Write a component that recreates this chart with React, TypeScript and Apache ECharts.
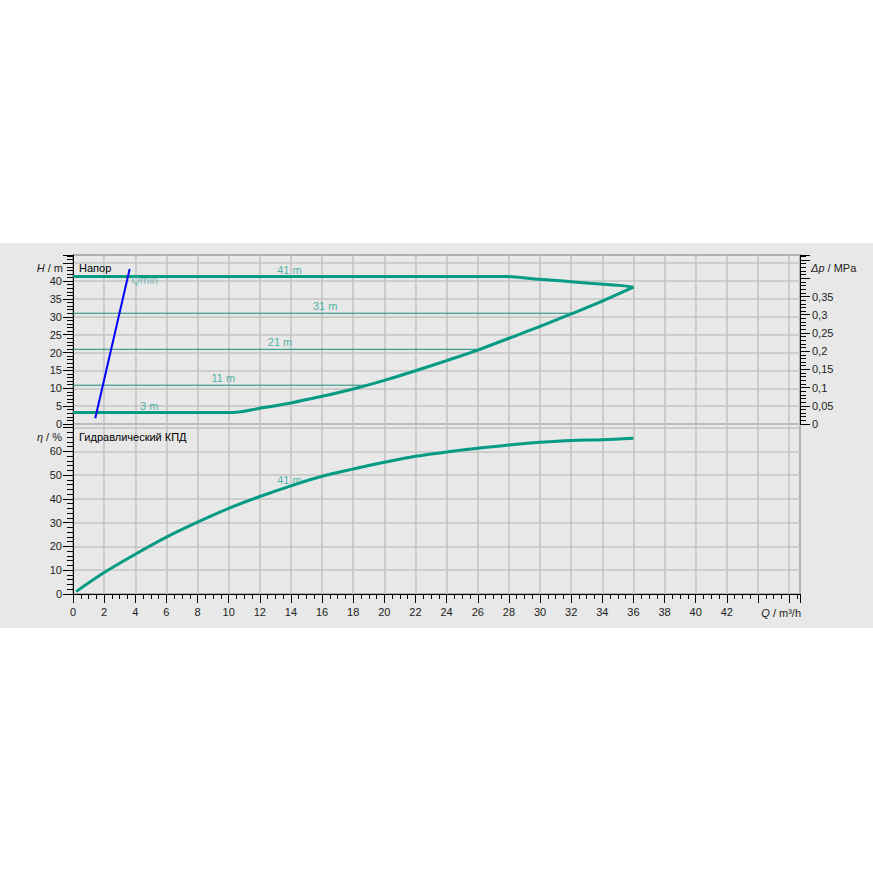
import React, { useEffect, useRef } from "react";
import * as echarts from "echarts";

// ---- data ----
const qMaxSpeed = [0, 27.8, 29.7, 31.5, 33.2, 35.1, 36];
const hMaxSpeed = [41.3, 41.3, 40.6, 40.0, 39.4, 38.8, 38.3];

const qMinSpeed = [0, 10.3, 12, 14, 16, 18, 20, 22, 24, 26, 28, 30, 32, 34, 36];
const hMinSpeed = [3.2, 3.2, 4.4, 5.9, 7.75, 9.8, 12.2, 14.9, 17.75, 20.7, 24.0, 27.3, 30.8, 34.4, 38.3];

const constHeads = [31.0, 20.9, 10.85];
const constHeadEndQ = [32.1, 26.1, 19.1];

const qMinLineQ = [1.43, 3.64];
const qMinLineH = [1.6, 43.4];

const qEff = [0.2, 2, 4, 6, 8, 10, 12, 14, 16, 18, 20, 22, 24, 26, 28, 30, 32, 34, 36];
const etaEff = [1, 9.0, 16.7, 23.9, 30.2, 36.0, 41.0, 45.5, 49.5, 52.6, 55.4, 57.9, 59.7, 61.3, 62.7, 63.8, 64.6, 64.9, 65.5];

const headLabels = ["41 m", "31 m", "21 m", "11 m", "3 m", "Qmin"];
const headLabelQ = [13.9, 16.2, 13.3, 9.65, 4.9, 4.6];
const headLabelH = [43.2, 33.1, 23.0, 13.0, 5.1, 40.4];

const effLabels = ["41 m"];
const effLabelQ = [13.9];
const effLabelEta = [47.8];

const xLastLabel = 42;
const hLastLabel = 40;
const etaLastLabel = 60;
const dpLastLabel = 0.35;

const FONT = "'Liberation Sans', Arial, sans-serif";
const TEAL = "#009b82";
const THIN = "#1a8f7a";
const LABEL_TEAL = "#26a393";
const TXT = "#1c1c1c";

export default function App() {
  const ref = useRef<HTMLDivElement>(null);
  useEffect(() => {
    if (!ref.current) return;
    const chart = echarts.init(ref.current, undefined, { renderer: "svg" });

    const axisTick = { show: true, length: 10, lineStyle: { color: "#000", width: 1 } };
    const minorTick = (n: number, len: number) => ({ show: true, splitNumber: n, length: len, lineStyle: { color: "#000", width: 1 } });
    const split = { show: true, lineStyle: { color: "#c4c4c4", width: 1.6 } };
    const lbl = { color: TXT, fontSize: 11, fontFamily: FONT };

    const pairs = (xs: number[], ys: number[]) => xs.map((x, i) => [x, ys[i]]);
    const italicRich = { i: { fontStyle: "italic", fontSize: 11, fontFamily: FONT, fill: TXT } };

    const option: any = {
      animation: false,
      backgroundColor: "#e8e8e8",
      textStyle: { fontFamily: FONT },
      grid: [
        { left: 73, right: 73, top: 12, height: 169, show: true, borderColor: "#000", borderWidth: 1, backgroundColor: "transparent" },
        { left: 73, right: 73, top: 181, height: 170, show: true, borderColor: "#000", borderWidth: 1, backgroundColor: "transparent" },
      ],
      xAxis: [
        {
          type: "value", gridIndex: 0, min: 0, max: 46.7, interval: 2,
          axisLine: { show: false }, axisTick: { show: false }, axisLabel: { show: false },
          splitLine: split,
        },
        {
          type: "value", gridIndex: 1, min: 0, max: 46.7, interval: 2,
          axisLine: { show: true, onZero: false, lineStyle: { color: "#000", width: 1 } },
          axisTick: { ...axisTick, length: 9 },
          minorTick: minorTick(4, 5),
          axisLabel: { ...lbl, margin: 12, formatter: (v: number) => (v <= xLastLabel && Math.abs(v - Math.round(v)) < 1e-6 ? String(v) : "") },
          splitLine: split,
        },
      ],
      yAxis: [
        {
          type: "value", gridIndex: 0, min: 0, max: 47.3, interval: 5, position: "left",
          axisLine: { show: true, lineStyle: { color: "#000", width: 1 } },
          axisTick: axisTick,
          minorTick: minorTick(5, 6),
          axisLabel: { ...lbl, margin: 11, formatter: (v: number) => (v <= hLastLabel && v % 5 === 0 ? String(v) : "") },
          splitLine: split,
        },
        {
          type: "value", gridIndex: 0, min: 0, max: 0.464, interval: 0.05, position: "right",
          axisLine: { show: true, lineStyle: { color: "#000", width: 1 } },
          axisTick: axisTick,
          minorTick: minorTick(5, 6),
          axisLabel: {
            ...lbl, margin: 12,
            formatter: (v: number) => (v <= dpLastLabel + 1e-9 && Math.abs(v * 20 - Math.round(v * 20)) < 1e-6 ? String(Number(v.toFixed(2))).replace(".", ",") : ""),
          },
          splitLine: { show: false },
        },
        {
          type: "value", gridIndex: 1, min: 0, max: 71.5, interval: 10, position: "left",
          axisLine: { show: true, lineStyle: { color: "#000", width: 1 } },
          axisTick: axisTick,
          minorTick: minorTick(5, 6),
          axisLabel: { ...lbl, margin: 11, formatter: (v: number) => (v <= etaLastLabel && v % 10 === 0 ? String(v) : "") },
          splitLine: split,
        },
      ],
      graphic: [
        { type: "text", x: 63, y: 25, z: 10, style: { text: "{i|H} / m", align: "right", verticalAlign: "middle", fill: TXT, font: `11px ${FONT}`, rich: italicRich } },
        { type: "text", x: 79, y: 25, z: 10, style: { text: "Напор", align: "left", verticalAlign: "middle", fill: "#000", font: `11px ${FONT}` } },
        { type: "text", x: 811, y: 25, z: 10, style: { text: "{i|Δp} / MPa", align: "left", verticalAlign: "middle", fill: TXT, font: `11px ${FONT}`, rich: italicRich } },
        { type: "text", x: 62, y: 194, z: 10, style: { text: "{i|η} / %", align: "right", verticalAlign: "middle", fill: TXT, font: `11px ${FONT}`, rich: italicRich } },
        { type: "text", x: 79, y: 194, z: 10, style: { text: "Гидравлический КПД", align: "left", verticalAlign: "middle", fill: "#000", font: `11px ${FONT}` } },
        { type: "text", x: 801, y: 370, z: 10, style: { text: "{i|Q} / m³/h", align: "right", verticalAlign: "middle", fill: TXT, font: `11px ${FONT}`, rich: italicRich } },
      ],
      series: [
        ...constHeads.map((h, i) => ({
          type: "line", xAxisIndex: 0, yAxisIndex: 0, showSymbol: false, z: 2,
          data: [[0, h], [constHeadEndQ[i], h]],
          lineStyle: { color: THIN, width: 1 },
        })),
        {
          type: "line", xAxisIndex: 0, yAxisIndex: 0, showSymbol: false, z: 3, smooth: 0.2,
          data: pairs(qMaxSpeed, hMaxSpeed), lineStyle: { color: TEAL, width: 3 },
        },
        {
          type: "line", xAxisIndex: 0, yAxisIndex: 0, showSymbol: false, z: 3, smooth: 0.3,
          data: pairs(qMinSpeed, hMinSpeed), lineStyle: { color: TEAL, width: 3 },
        },
        {
          type: "line", xAxisIndex: 0, yAxisIndex: 0, showSymbol: false, z: 4,
          data: pairs(qMinLineQ, qMinLineH), lineStyle: { color: "#0000ff", width: 2 },
        },
        {
          type: "line", xAxisIndex: 1, yAxisIndex: 2, showSymbol: false, z: 3, smooth: 0.3,
          data: pairs(qEff, etaEff), lineStyle: { color: TEAL, width: 3 },
        },
        {
          type: "scatter", xAxisIndex: 0, yAxisIndex: 0, symbolSize: 0, z: 5,
          data: headLabels.map((n, i) => ({ name: n, value: [headLabelQ[i], headLabelH[i]], label: { color: n === "Qmin" ? "#5cb3a8" : LABEL_TEAL } })),
          label: { show: true, position: "inside", formatter: (p: any) => p.name, fontSize: 11, fontFamily: FONT, color: LABEL_TEAL },
        },
        {
          type: "scatter", xAxisIndex: 1, yAxisIndex: 2, symbolSize: 0, z: 5,
          data: effLabels.map((n, i) => ({ name: n, value: [effLabelQ[i], effLabelEta[i]] })),
          label: { show: true, position: "inside", formatter: (p: any) => p.name, fontSize: 11, fontFamily: FONT, color: LABEL_TEAL },
        },
      ],
    };
    chart.setOption(option);
    return () => chart.dispose();
  }, []);

  return (
    <div style={{ position: "fixed", left: 0, top: 0, width: 873, height: 873, background: "#fff" }}>
      <div ref={ref} style={{ position: "absolute", left: 0, top: 243, width: 873, height: 385 }} />
    </div>
  );
}
